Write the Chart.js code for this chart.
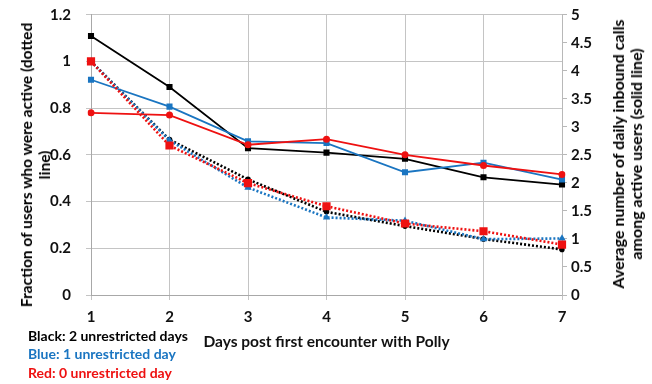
<!DOCTYPE html>
<html>
<head>
<meta charset="utf-8">
<script src="https://cdn.jsdelivr.net/npm/chart.js@4"></script>
<style>
  html, body { margin: 0; padding: 0; background: #fff; }
  #wrap { position: relative; width: 652px; height: 384px; overflow: hidden; }
  canvas { position: absolute; left: 0; top: 0; }
  .lbl { position: absolute; font-family: Lato, "Open Sans", sans-serif; font-weight: bold; font-size: 14px; white-space: nowrap; }
  .rt { position: absolute; font-family: Lato, "Open Sans", sans-serif; font-weight: bold; font-size: 15.5px; line-height: 18px; white-space: nowrap; color: #000;
        text-align: center; transform: translate(-50%, -50%) rotate(-90deg); }
</style>
</head>
<body>
<div id="wrap">
  <canvas id="c" width="652" height="384"></canvas>
  <div class="rt" style="left:35px; top:165px;">Fraction of users who were active (dotted<br>line)</div>
  <div class="rt" style="left:627px; top:154px; font-size:16px;">Average number of daily inbound calls<br>among active users (solid line)</div>
  <div class="lbl" style="left:28px; top:327px; color:#000;">Black: 2 unrestricted days</div>
  <div class="lbl" style="left:28px; top:345px; color:#1a75c1;">Blue: 1 unrestricted day</div>
  <div class="lbl" style="left:28px; top:364px; color:#ee1111;">Red: 0 unrestricted day</div>
</div>
<script>
const days = ['1', '2', '3', '4', '5', '6', '7'];
const leftTicks = [0, 0.2, 0.4, 0.6, 0.8, 1, 1.2];
const rightTicks = [0, 0.5, 1, 1.5, 2, 2.5, 3, 3.5, 4, 4.5, 5];

// Average daily inbound calls among active users (solid lines, right axis)
const blackCalls = [4.62, 3.71, 2.62, 2.54, 2.43, 2.10, 1.97];
const blueCalls  = [3.84, 3.36, 2.74, 2.71, 2.19, 2.36, 2.06];
const redCalls   = [3.25, 3.21, 2.68, 2.78, 2.50, 2.31, 2.15];

// Fraction of users who were active (dotted lines, left axis)
const blackActive = [1.0, 0.665, 0.495, 0.356, 0.295, 0.240, 0.195];
const blueActive  = [1.0, 0.662, 0.460, 0.332, 0.318, 0.239, 0.242];
const redActive   = [1.0, 0.640, 0.479, 0.380, 0.306, 0.273, 0.216];

const BLACK = '#000000', BLUE = '#1a75c1', RED = '#ee1111';
const FONT = 'Lato, "Open Sans", sans-serif';

function solid(data, color, style, r) {
  return { data, yAxisID: 'yR', borderColor: color, backgroundColor: color, borderWidth: 1.8,
    pointStyle: style, pointRadius: r, pointHoverRadius: r, pointBorderWidth: 0, tension: 0, fill: false };
}
function dotted(data, color, style, r) {
  return { data, yAxisID: 'yL', borderColor: color, backgroundColor: color, borderWidth: 2.6,
    borderDash: [2, 2], borderCapStyle: 'butt',
    pointStyle: style, pointRadius: r, pointHoverRadius: r, pointBorderWidth: 0, tension: 0, fill: false };
}
const fmt = v => String(Number(Number(v).toFixed(2)));

new Chart(document.getElementById('c'), {
  type: 'line',
  data: {
    labels: days,
    datasets: [
      solid(redCalls, RED, 'circle', 3.5),
      dotted(redActive, RED, 'rect', 5.8),
      solid(blueCalls, BLUE, 'rect', 4.3),
      dotted(blueActive, BLUE, 'triangle', 4.2),
      solid(blackCalls, BLACK, 'rect', 4.3),
      dotted(blackActive, BLACK, 'circle', 2.8)
    ]
  },
  options: {
    responsive: false,
    devicePixelRatio: 1,
    animation: false,
    events: [],
    layout: { padding: { left: 0, right: 0, top: 14.7, bottom: 29 } },
    plugins: { legend: { display: false }, tooltip: { enabled: false } },
    scales: {
      x: {
        type: 'category',
        offset: false,
        grid: { color: '#c4c4c4', lineWidth: 1, tickLength: 5, drawTicks: true },
        border: { color: '#a8a8a8', width: 1 },
        ticks: { color: '#111', padding: 8, font: { family: FONT, weight: 'bold', size: 15 }, maxRotation: 0 },
        title: { display: true, text: 'Days post first encounter with Polly', color: '#111',
          font: { family: FONT, weight: 'bold', size: 15.5 }, padding: { top: 4, bottom: 4 } },
        afterFit: s => { s.height = 60; s.paddingLeft = 0; s.paddingRight = 0; }
      },
      yL: {
        type: 'linear', position: 'left', min: 0, max: 1.2,
        afterBuildTicks: s => { s.ticks = leftTicks.map(v => ({ value: v })); },
        grid: { color: '#c4c4c4', lineWidth: 1, tickLength: 5 },
        border: { color: '#a8a8a8', width: 1 },
        ticks: { color: '#111', padding: 15, callback: fmt, font: { family: FONT, weight: 'bold', size: 15 } },
        afterFit: s => { s.width = 91; s.paddingTop = 0; s.paddingBottom = 0; }
      },
      yR: {
        type: 'linear', position: 'right', min: 0, max: 5,
        afterBuildTicks: s => { s.ticks = rightTicks.map(v => ({ value: v })); },
        grid: { drawOnChartArea: false, color: '#b8b8b8', tickLength: 5 },
        border: { color: '#b8b8b8', width: 1 },
        ticks: { color: '#111', padding: 4, callback: fmt, font: { family: FONT, weight: 'bold', size: 15 } },
        afterFit: s => { s.width = 90; s.paddingTop = 0; s.paddingBottom = 0; }
      }
    }
  }
});
</script>
</body>
</html>
